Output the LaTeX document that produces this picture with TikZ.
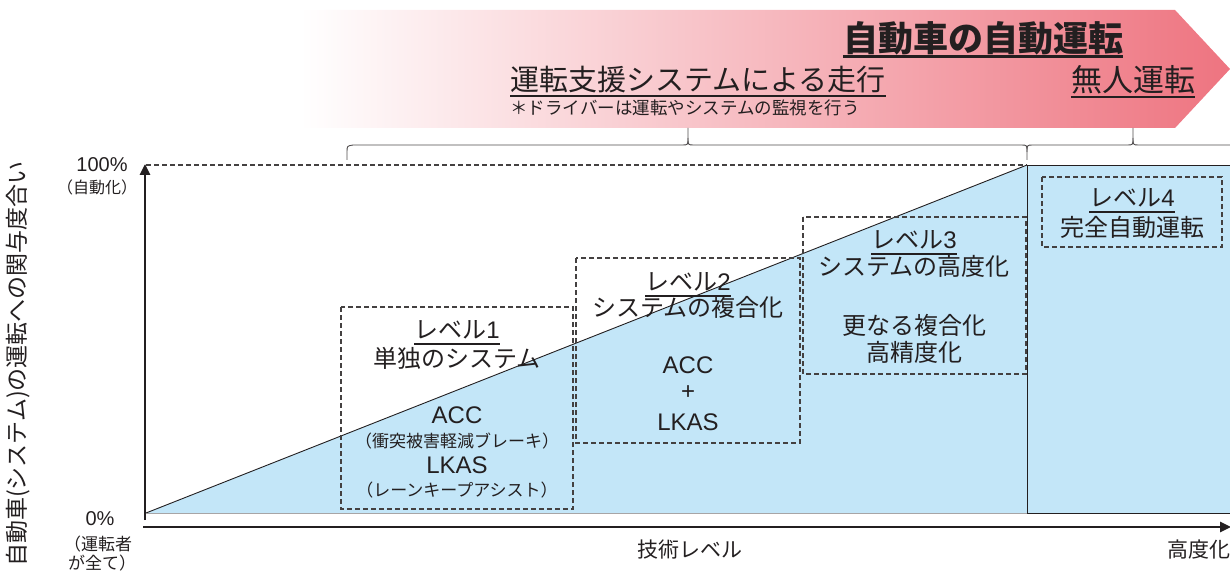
\documentclass[tikz,border=0pt]{standalone}
\usepackage{fontspec}
\setmainfont{Noto Sans CJK JP}
\newfontfamily\lat{Liberation Sans}
\usetikzlibrary{arrows.meta}
\definecolor{txt}{HTML}{231F20}
\definecolor{sky}{HTML}{C3E6F8}
\definecolor{pinkR}{HTML}{EE7480}
\begin{document}
\begin{tikzpicture}[x=1pt,y=-1pt,
  every node/.style={text=txt, inner sep=0pt, align=center},
  jp/.style={font=\fontsize{#1}{#1}\selectfont},
  la/.style={font=\fontsize{#1}{#1}\selectfont\lat},
  ul/.style={draw=txt, line width=#1},
  lvbox/.style={draw=txt!85, dash pattern=on 5pt off 3pt, line width=1.1pt},
  edge/.style={draw=txt, line width=0.9pt},
  axis/.style={draw=txt, line width=2.6pt, -{Triangle[length=11pt,width=10pt]}},
  bracepath/.style={draw=txt!80, line width=0.9pt}]
\useasboundingbox (0,0) rectangle (1230,572);

% banner
\shade[left color=white, right color=pinkR] (300,10) -- (1175,10) -- (1230,69) -- (1175,128) -- (300,128) -- cycle;
\node[font=\fontsize{35}{35}\selectfont\bfseries] (title) at (983,38) {自動車の自動運転};
\draw[ul=3pt] ([yshift=-5pt]title.base west) -- ([yshift=-5pt]title.base east);
\node[jp=29] (assist) at (698,80) {運転支援システムによる走行};
\draw[ul=2pt] ([yshift=-5pt]assist.base west) -- ([yshift=-5pt]assist.base east);
\node[jp=17.5] (note) at (685,108) {＊ドライバーは運転やシステムの監視を行う};
\node[jp=31] (unmanned) at (1133,80) {無人運転};
\draw[ul=2pt] ([yshift=-5pt]unmanned.base west) -- ([yshift=-5pt]unmanned.base east);

% braces
\draw[bracepath] (347,160) -- (347,152) .. controls (347,146) .. (353,145) -- (682,145) .. controls (688,145) .. (688,138) -- (688,128);
\draw[bracepath] (688,138) .. controls (688,145) .. (694,145) -- (1021,145) .. controls (1027,145) .. (1027,152) -- (1027,160);
\draw[bracepath] (1027,152) .. controls (1027,145) .. (1033,145) -- (1127,145) .. controls (1133,145) .. (1133,138) -- (1133,128);
\draw[bracepath] (1133,138) .. controls (1133,145) .. (1139,145) -- (1230,145);

% blue regions
\coordinate (o) at (146,513);
\coordinate (top) at (1027,165);
\coordinate (foot) at (1027,513);
\coordinate (rt) at (1232,165);
\coordinate (rb) at (1232,513);
\fill[sky] (o) -- (top) -- (foot) -- cycle;
\fill[sky] (top) rectangle (rb);
\draw[edge] (o) -- (top);
\draw[edge] (top) -- (foot);
\draw[edge] (top) -- (rt);
\draw[edge] (foot) -- (rb);
\draw[draw=txt!40, line width=0.6pt] (o) -- (foot);
\draw[lvbox] (146,165) -- (top);

% axes
\coordinate (ybot) at (145,520);
\coordinate (ytop) at (145,164);
\coordinate (xl) at (143,527);
\coordinate (xr) at (1231,527);
\draw[axis] (ybot) -- (ytop);
\draw[axis] (xl) -- (xr);

% axis labels
\node[la=20] (p100) at (102,165) {100\%};
\node[jp=16] (auto) at (97,187) {（自動化）};
\node[la=20] (p0) at (100,519) {0\%};
\node[jp=17] (drv1) at (98,544) {（運転者};
\node[jp=17] (drv2) at (102,563) {が全て）};
\node[jp=23, rotate=90] (ylab) at (18,364) {自動車(システム)の運転への関与度合い};
\node[jp=21] (xlab) at (690,550) {技術レベル};
\node[jp=21] (xhi) at (1199,550) {高度化};

% level 1
\draw[lvbox] (341,307) rectangle (573,509);
\node[jp=24] (l1) at (457,330) {レベル{\lat 1}};
\draw[ul=1.8pt] ([yshift=-5pt]l1.base west) -- ([yshift=-5pt]l1.base east);
\node[jp=24] (l1a) at (457,358) {単独のシステム};
\node[la=24] (l1b) at (457,415) {ACC};
\node[jp=17] (l1c) at (457,441) {（衝突被害軽減ブレーキ）};
\node[la=24] (l1d) at (457,465) {LKAS};
\node[jp=17] (l1e) at (457,490) {（レーンキープアシスト）};

% level 2
\draw[lvbox] (576,258) rectangle (800,443);
\node[jp=24] (l2) at (688,282) {レベル{\lat 2}};
\draw[ul=1.8pt] ([yshift=-5pt]l2.base west) -- ([yshift=-5pt]l2.base east);
\node[jp=24] (l2a) at (688,307) {システムの複合化};
\node[la=24] (l2b) at (688,365) {ACC};
\node[la=24] (l2c) at (688,393) {+};
\node[la=24] (l2d) at (688,422) {LKAS};

% level 3
\draw[lvbox] (803,217) rectangle (1026,374);
\node[jp=24] (l3) at (914,240) {レベル{\lat 3}};
\draw[ul=1.8pt] ([yshift=-5pt]l3.base west) -- ([yshift=-5pt]l3.base east);
\node[jp=24] (l3a) at (914,266) {システムの高度化};
\node[jp=24] (l3b) at (914,325) {更なる複合化};
\node[jp=24] (l3c) at (914,352) {高精度化};

% level 4
\draw[lvbox] (1042,177) rectangle (1222,247);
\node[jp=24] (l4) at (1132,198) {レベル{\lat 4}};
\draw[ul=1.8pt] ([yshift=-5pt]l4.base west) -- ([yshift=-5pt]l4.base east);
\node[jp=24] (l4a) at (1132,227) {完全自動運転};
\end{tikzpicture}
\end{document}
